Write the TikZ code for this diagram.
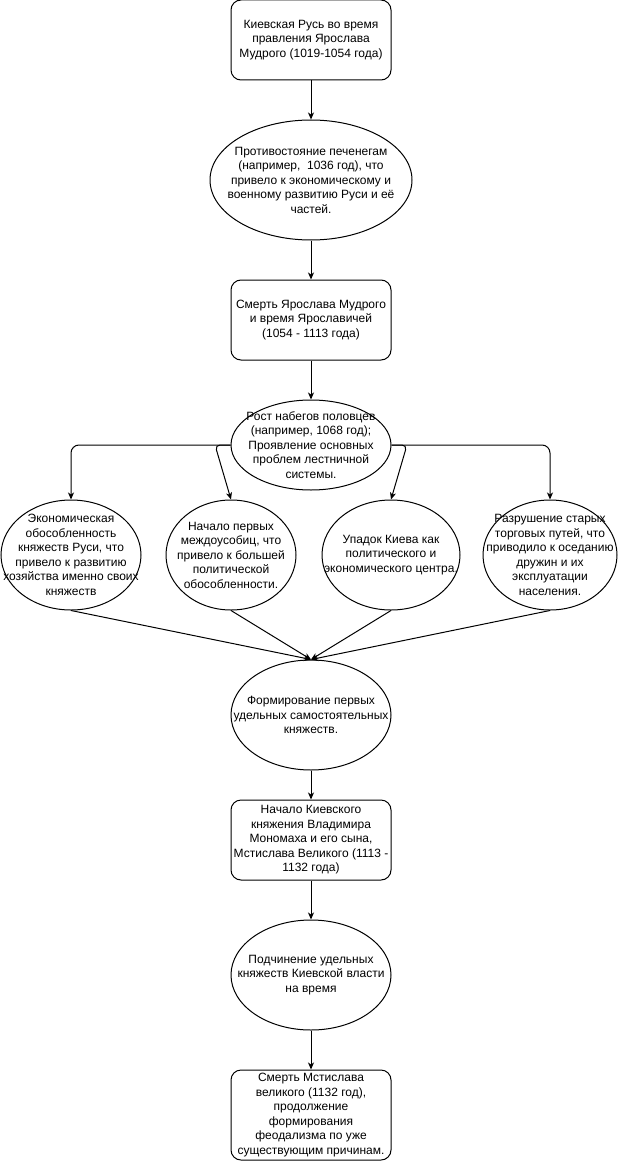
\documentclass[tikz,border=0pt]{standalone}
\usepackage{fontspec}
\setmainfont{Liberation Sans}
\usetikzlibrary{shapes.geometric,arrows.meta}
\begin{document}
\begin{tikzpicture}[x=1pt,y=-1pt,
  every node/.style={font=\fontsize{12}{14.5}\selectfont},
  rbox/.style={draw=black,line width=1pt,rounded corners=10pt,minimum width=160pt,minimum height=80pt,inner sep=0pt},
  ell/.style={draw=black,line width=1pt,ellipse,inner sep=0pt},
  txt/.style={align=center,inner sep=0pt},
  arr/.style={draw=black,line width=1pt,-{Stealth[length=7pt,width=6pt,inset=2pt]}}
]
\useasboundingbox (0,0) rectangle (621,1161);
% boxes and ellipses
\node[rbox] (b1) at (311,40) {};
\node[txt] at (b1) {Киевская Русь во время\\правления Ярослава\\Мудрого (1019-1054 года)};
\node[ell,minimum width=202pt,minimum height=120pt] (e2) at (311,180) {};
\node[txt] at (e2) {Противостояние печенегам\\(например,\ \ 1036 год), что\\привело к экономическому и\\военному развитию Руси и её\\частей.};
\node[rbox] (b3) at (311,320) {};
\node[txt] at (b3) {Смерть Ярослава Мудрого\\и время Ярославичей\\(1054 - 1113 года)};
\node[ell,minimum width=160pt,minimum height=90pt] (e4) at (311,445) {};
\node[txt] at (e4) {Рост набегов половцев\\(например, 1068 год);\\Проявление основных\\проблем лестничной\\системы.};
\node[ell,minimum width=140pt,minimum height=110pt] (e5a) at (71,555) {};
\node[txt] at (e5a) {Экономическая\\обособленность\\княжеств Руси, что\\привело к развитию\\хозяйства именно своих\\княжеств};
\node[ell,minimum width=130pt,minimum height=110pt] (e5b) at (231,555) {};
\node[txt] at (e5b) {Начало первых\\междоусобиц, что\\привело к большей\\политической\\обособленности.};
\node[ell,minimum width=138pt,minimum height=110pt] (e5c) at (391,555) {};
\node[txt] at (e5c) {Упадок Киева как\\политического и\\экономического центра.};
\node[ell,minimum width=134pt,minimum height=110pt] (e5d) at (550,555) {};
\node[txt] at (e5d) {Разрушение старых\\торговых путей, что\\приводило к оседанию\\дружин и их\\эксплуатации\\населения.};
\node[ell,minimum width=160pt,minimum height=110pt] (e6) at (311,715) {};
\node[txt] at (e6) {Формирование первых\\удельных самостоятельных\\княжеств.};
\node[rbox] (b7) at (311,840) {};
\node[txt] at (b7) {Начало Киевского\\княжения Владимира\\Мономаха и его сына,\\Мстислава Великого (1113 -\\1132 года)};
\node[ell,minimum width=160pt,minimum height=110pt] (e8) at (311,975) {};
\node[txt] at (e8) {Подчинение удельных\\княжеств Киевской власти\\на время};
\node[rbox,minimum height=90pt] (b9) at (311,1115) {};
\node[txt] at (b9) {Смерть Мстислава\\великого (1132 год),\\продолжение\\формирования\\феодализма по уже\\существующим причинам.};
% connectors
\draw[arr] (b1) -- (e2);
\draw[arr] (e2) -- (b3);
\draw[arr] (b3) -- (e4);
\coordinate (k1) at (215,445);
\coordinate (k2) at (407,445);
\draw[arr,rounded corners=8pt] (e4.west) -| (e5a.north);
\draw[arr,rounded corners=5pt] (e4.west) -- (k1) -- (e5b.north);
\draw[arr,rounded corners=5pt] (e4.east) -- (k2) -- (e5c.north);
\draw[arr,rounded corners=8pt] (e4.east) -| (e5d.north);
\draw[arr] (e5a.south) -- (e6.north);
\draw[arr] (e5b.south) -- (e6.north);
\draw[arr] (e5c.south) -- (e6.north);
\draw[arr] (e5d.south) -- (e6.north);
\draw[arr] (e6) -- (b7);
\draw[arr] (b7) -- (e8);
\draw[arr] (e8) -- (b9);
\end{tikzpicture}
\end{document}
